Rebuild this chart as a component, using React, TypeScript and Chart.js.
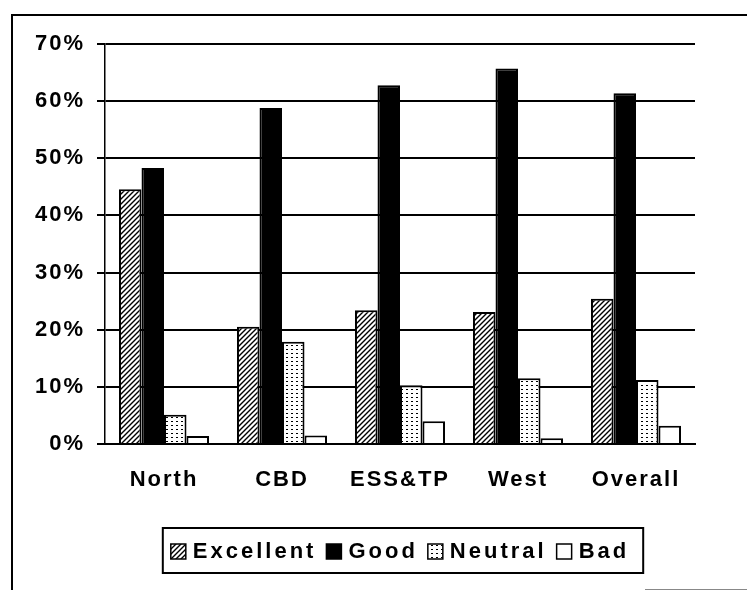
import React, { useEffect, useRef } from "react";
import { Chart, registerables } from "chart.js";

Chart.register(...registerables);

const categories = ["North", "CBD", "ESS&TP", "West", "Overall"];
const seriesNames = ["Excellent", "Good", "Neutral", "Bad"];
const excellent = [44.6, 20.5, 23.4, 23.1, 25.4];
const good = [48.3, 58.8, 62.8, 65.7, 61.4];
const neutral = [5.1, 17.9, 10.3, 11.5, 11.2];
const bad = [1.4, 1.5, 4.0, 1.0, 3.2];
const yTickValues = [0, 10, 20, 30, 40, 50, 60, 70];

const FONT = "'Liberation Sans', Arial, sans-serif";

function makeHatch(ctx: CanvasRenderingContext2D) {
  const c = document.createElement("canvas");
  c.width = 5;
  c.height = 5;
  const g = c.getContext("2d")!;
  g.fillStyle = "#fff";
  g.fillRect(0, 0, 5, 5);
  g.strokeStyle = "#000";
  g.lineWidth = 1.4;
  g.beginPath();
  g.moveTo(-1, 6);
  g.lineTo(6, -1);
  g.moveTo(-1, 1);
  g.lineTo(1, -1);
  g.moveTo(4, 6);
  g.lineTo(6, 4);
  g.stroke();
  return ctx.createPattern(c, "repeat")!;
}

function makeDots(ctx: CanvasRenderingContext2D) {
  const c = document.createElement("canvas");
  c.width = 5;
  c.height = 4;
  const g = c.getContext("2d")!;
  g.fillStyle = "#fff";
  g.fillRect(0, 0, 5, 4);
  g.fillStyle = "#000";
  g.fillRect(1, 1, 2, 1);
  return ctx.createPattern(c, "repeat")!;
}

const spacingPlugin = {
  id: "spacing",
  beforeUpdate(chart: any) {
    chart.ctx.letterSpacing = "2px";
  },
  beforeDraw(chart: any) {
    chart.ctx.letterSpacing = "2px";
  },
};

const decorPlugin = {
  id: "decor",
  afterDraw(chart: any) {
    const ctx: CanvasRenderingContext2D = chart.ctx;
    const area = chart.chartArea;
    ctx.save();
    // outer frame
    ctx.strokeStyle = "#000";
    ctx.lineWidth = 2;
    ctx.beginPath();
    ctx.moveTo(12, 590);
    ctx.lineTo(12, 15);
    ctx.lineTo(747, 15);
    ctx.stroke();
    // faint line bottom right
    ctx.strokeStyle = "#888";
    ctx.lineWidth = 1;
    ctx.beginPath();
    ctx.moveTo(645, 589.5);
    ctx.lineTo(747, 589.5);
    ctx.stroke();

    // legend
    ctx.font = `bold 22px ${FONT}`;
    (ctx as any).letterSpacing = "3px";
    const box = 15;
    const gapT = 7;
    const gapI = 10;
    const widths = seriesNames.map((n) => ctx.measureText(n).width);
    let total = 0;
    widths.forEach((w, i) => {
      total += box + gapT + w + (i < widths.length - 1 ? gapI : 0);
    });
    const cx = (area.left + area.right) / 2;
    let x = cx - total / 2;
    const startX = x;
    const sqTop = 544;
    const baseY = 558;
    ctx.textBaseline = "alphabetic";
    ctx.textAlign = "left";
    chart.data.datasets.forEach((ds: any, i: number) => {
      ctx.fillStyle = ds.backgroundColor;
      ctx.fillRect(x, sqTop, box, box);
      ctx.strokeStyle = "#000";
      ctx.lineWidth = 1.5;
      ctx.strokeRect(x, sqTop, box, box);
      x += box + gapT;
      ctx.fillStyle = "#000";
      ctx.fillText(seriesNames[i], x, baseY);
      x += widths[i] + gapI;
    });
    ctx.strokeStyle = "#000";
    ctx.lineWidth = 2;
    ctx.strokeRect(startX - 8, 528, total + 8 + 14, 45);
    ctx.restore();
  },
};

export default function App() {
  const ref = useRef<HTMLCanvasElement | null>(null);
  useEffect(() => {
    const canvas = ref.current!;
    const ctx = canvas.getContext("2d")!;
    const hatch = makeHatch(ctx);
    const dots = makeDots(ctx);
    const chart = new Chart(canvas, {
      type: "bar",
      data: {
        labels: categories,
        datasets: [
          { label: seriesNames[0], data: excellent, backgroundColor: hatch as any, borderColor: "#000", borderWidth: 2 },
          { label: seriesNames[1], data: good, backgroundColor: "#000", borderColor: "#000", borderWidth: 2 },
          { label: seriesNames[2], data: neutral, backgroundColor: dots as any, borderColor: "#000", borderWidth: 2 },
          { label: seriesNames[3], data: bad, backgroundColor: "#fff", borderColor: "#000", borderWidth: 2 },
        ],
      },
      options: {
        responsive: false,
        animation: false,
        layout: { padding: { top: 44, right: 52, left: 0, bottom: 0 } },
        plugins: { legend: { display: false }, tooltip: { enabled: false } },
        datasets: { bar: { categoryPercentage: 0.763, barPercentage: 1 } } as any,
        scales: {
          x: {
            grid: { display: false, drawTicks: false },
            border: { display: true, color: "#000", width: 2 },
            ticks: { color: "#000", font: { family: FONT, size: 22, weight: "bold" }, padding: 23 },
            afterFit(scale: any) {
              scale.height = 146;
            },
          },
          y: {
            min: 0,
            max: 70,
            afterBuildTicks(scale: any) {
              scale.ticks = yTickValues.map((v) => ({ value: v }));
            },
            grid: { color: "#000", lineWidth: 2, drawTicks: true, tickLength: 8 },
            border: { display: true, color: "#000", width: 1.5 },
            ticks: {
              color: "#000",
              font: { family: FONT, size: 22, weight: "bold" },
              padding: 12,
              callback: (v: any) => `${v}%`,
            },
            afterFit(scale: any) {
              scale.width = 105;
            },
          },
        },
      },
      plugins: [spacingPlugin, decorPlugin],
    });
    return () => chart.destroy();
  }, []);
  return (
    <div style={{ position: "absolute", left: 0, top: 0, width: 747, height: 590, background: "#fff" }}>
      <canvas ref={ref} width={747} height={590} style={{ display: "block" }} />
    </div>
  );
}
